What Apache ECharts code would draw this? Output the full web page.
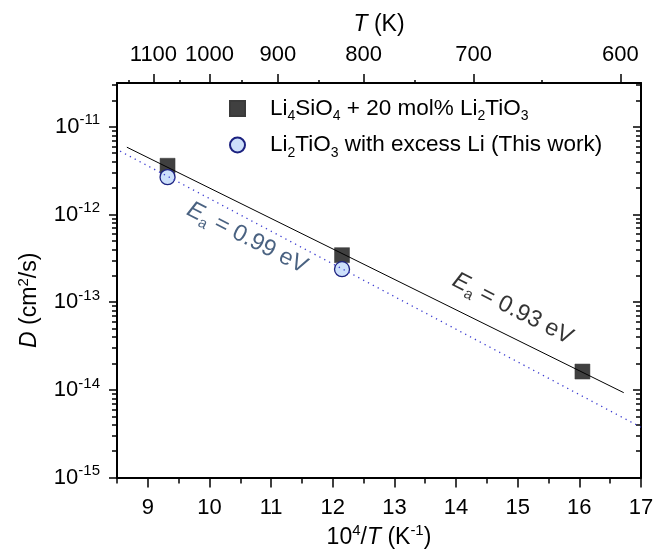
<!DOCTYPE html>
<html><head><meta charset="utf-8">
<script src="https://cdn.jsdelivr.net/npm/echarts@6/dist/echarts.min.js"></script>
<style>html,body{margin:0;padding:0;background:#fff}#c{width:668px;height:554px}</style>
</head><body><div id="c"></div>
<script>
// ---- data ----
const xTicks = [9, 10, 11, 12, 13, 14, 15, 16, 17];
const xMinorTicks = [8.5, 9.5, 10.5, 11.5, 12.5, 13.5, 14.5, 15.5, 16.5];
const tTicks = [1100, 1000, 900, 800, 700, 600];
const tMinorTicks = [1150, 1050, 950, 850, 750, 650];
const yDecades = [-15, -14, -13, -12, -11];
const yMinorMultipliers = [2, 3, 4, 5, 6, 7, 8, 9];
const nameA = 'Li4SiO4 + 20 mol% Li2TiO3';
const nameB = 'Li2TiO3 with excess Li (This work)';
const pointsA = [[9.32, 3.6e-12], [12.15, 3.44e-13], [16.05, 1.62e-14]];
const pointsB = [[9.32, 2.67e-12], [12.15, 2.38e-13]];
const fitA = [[8.66, 5.86e-12], [16.72, 9.3e-15]];
const fitB = [[8.55, 5.28e-12], [17.0, 3.75e-15]];
const annotA = [[14.92, 8.4e-14]];
const annotB = [[10.61, 5.4e-13]];
const annotAText = '0.93 eV';
const annotBText = '0.99 eV';

// ---- chart ----
const FF = 'Liberation Sans, Arial, sans-serif';
const yMin = 1e-15, yMax = Math.pow(10, -10.5);
const yMajor = yDecades.map(e => Math.pow(10, e));
const yMinor = [];
yDecades.forEach(e => yMinorMultipliers.forEach(m => { const v = m * Math.pow(10, e); if (v < yMax) yMinor.push(v); }));
const tMajorX = tTicks.map(t => 1e4 / t);
const tMinorX = tMinorTicks.map(t => 1e4 / t);

const supRich = {
  b: {fontSize: 22, lineHeight: 28, fontFamily: FF, color: '#000'},
  s: {fontSize: 15, lineHeight: 15, verticalAlign: 'top', fontFamily: FF, color: '#000'}
};
const nameRich = {
  n: {fontSize: 23, lineHeight: 28, fontFamily: FF, color: '#000'},
  i: {fontSize: 23, lineHeight: 28, fontFamily: FF, fontStyle: 'italic', color: '#000'},
  sup: {fontSize: 15, lineHeight: 15, verticalAlign: 'top', fontFamily: FF, color: '#000'}
};
const axLine = {show: true, onZero: false, lineStyle: {color: '#000', width: 2}};
const tickStyle = {color: '#000', width: 1.5};

const chart = echarts.init(document.getElementById('c'), null, {renderer: 'canvas'});
chart.setOption({
  animation: false,
  backgroundColor: '#fff',
  grid: {left: 117, right: 27, top: 83, bottom: 71, containLabel: false},
  legend: {
    orient: 'vertical', left: 229, top: 97, padding: 0, itemGap: 10,
    itemWidth: 15, itemHeight: 15, selectedMode: false,
    data: [{name: nameA, icon: 'rect'}, {name: nameB, icon: 'circle'}],
    formatter: n => n === nameA
      ? '{t|Li}{sub|4}{t|SiO}{sub|4}{t| + 20 mol% Li}{sub|2}{t|TiO}{sub|3}'
      : '{t|Li}{sub|2}{t|TiO}{sub|3}{t| with excess Li (This work)}',
    textStyle: {
      fontSize: 22, fontFamily: FF, color: '#000', padding: [0, 0, 0, 20],
      rich: {
        t: {fontSize: 22.5, lineHeight: 30, fontFamily: FF, color: '#000'},
        sub: {fontSize: 14, lineHeight: 6, verticalAlign: 'bottom', fontFamily: FF, color: '#000'}
      }
    }
  },
  xAxis: [
    {type: 'value', position: 'bottom', min: 8.5, max: 17, axisLine: axLine,
     axisTick: {customValues: xTicks, length: 10, lineStyle: tickStyle},
     axisLabel: {customValues: xTicks, margin: 19, fontSize: 22, fontFamily: FF, color: '#000'},
     splitLine: {show: false},
     name: '{n|10}{sup|4}{n|/}{i|T}{n| (K}{sup|-1}{n|)}', nameLocation: 'middle', nameGap: 45,
     nameTextStyle: {rich: nameRich, fontSize: 23, fontFamily: FF, color: '#000'}},
    {type: 'value', position: 'bottom', min: 8.5, max: 17, axisLine: {show: false, onZero: false},
     axisTick: {customValues: xMinorTicks, length: 6, lineStyle: tickStyle},
     axisLabel: {show: false}, splitLine: {show: false}},
    {type: 'value', position: 'top', min: 8.5, max: 17, axisLine: axLine,
     axisTick: {customValues: tMajorX, length: 9, lineStyle: tickStyle},
     axisLabel: {customValues: tMajorX, margin: 17, fontSize: 22, fontFamily: FF, color: '#000',
                 formatter: v => String(Math.round(1e4 / v / 10) * 10)},
     splitLine: {show: false},
     name: '{i|T}{n| (K)}', nameLocation: 'middle', nameGap: 44,
     nameTextStyle: {rich: nameRich, fontSize: 23, fontFamily: FF, color: '#000'}},
    {type: 'value', position: 'top', min: 8.5, max: 17, axisLine: {show: false, onZero: false},
     axisTick: {customValues: tMinorX, length: 3, lineStyle: tickStyle},
     axisLabel: {show: false}, splitLine: {show: false}}
  ],
  yAxis: [
    {type: 'log', logBase: 10, position: 'left', min: yMin, max: yMax, axisLine: axLine,
     axisTick: {customValues: yMajor, length: 8, lineStyle: tickStyle},
     axisLabel: {customValues: yMajor, margin: 17, fontFamily: FF, color: '#000',
                 formatter: v => { const e = Math.round(Math.log10(v)); return '{b|10}{s|' + (e < 0 ? '-' : '') + Math.abs(e) + '}'; },
                 rich: supRich},
     splitLine: {show: false},
     name: '{i|D}{n| (cm}{sup|2}{n|/s)}', nameLocation: 'middle', nameRotate: 90, nameGap: 73,
     nameTextStyle: {rich: nameRich, fontSize: 23, fontFamily: FF, color: '#000', padding: [0, 40, 0, 0]}},
    {type: 'log', logBase: 10, position: 'left', min: yMin, max: yMax, axisLine: {show: false, onZero: false},
     axisTick: {customValues: yMinor, length: 5, lineStyle: tickStyle},
     axisLabel: {show: false}, splitLine: {show: false}},
    {type: 'log', logBase: 10, position: 'right', min: yMin, max: yMax, axisLine: axLine,
     axisTick: {customValues: yMajor, length: 8, inside: true, lineStyle: tickStyle},
     axisLabel: {show: false}, splitLine: {show: false}},
    {type: 'log', logBase: 10, position: 'right', min: yMin, max: yMax, axisLine: {show: false, onZero: false},
     axisTick: {customValues: yMinor, length: 5, inside: true, lineStyle: tickStyle},
     axisLabel: {show: false}, splitLine: {show: false}}
  ],
  series: [
    {name: nameA, type: 'scatter', data: pointsA, symbol: 'rect', symbolSize: 15, z: 2,
     itemStyle: {color: '#404040', opacity: 1, borderColor: '#3a3a3a', borderWidth: 0.5}},
    {name: nameB, type: 'scatter', data: pointsB, symbol: 'circle', symbolSize: 15, z: 3,
     itemStyle: {color: '#cde0fb', opacity: 1, borderColor: '#1c2280', borderWidth: 1.3}},
    {type: 'line', data: fitA, symbol: 'none', z: 4, silent: true,
     lineStyle: {color: '#000', width: 1}},
    {type: 'line', data: fitB, symbol: 'none', z: 4, silent: true,
     lineStyle: {color: '#3c3cd0', width: 1.3, type: [1.3, 4.2]}},
    {type: 'scatter', data: annotA, symbolSize: 0.1, silent: true, z: 5,
     itemStyle: {color: 'rgba(0,0,0,0)'},
     label: {show: true, position: 'inside', rotate: -27,
             formatter: '{i|E}{sub|a}{t| = ' + annotAText + '}',
             rich: {
               t: {fontSize: 23.5, lineHeight: 30, fontFamily: FF, color: '#000'},
               i: {fontSize: 23.5, lineHeight: 30, fontFamily: FF, fontStyle: 'italic', color: '#000'},
               sub: {fontSize: 15, lineHeight: 8, verticalAlign: 'bottom', fontFamily: FF, color: '#000'}
             }}},
    {type: 'scatter', data: annotB, symbolSize: 0.1, silent: true, z: 5,
     itemStyle: {color: 'rgba(0,0,0,0)'},
     label: {show: true, position: 'inside', rotate: -27,
             formatter: '{i|E}{sub|a}{t| = ' + annotBText + '}',
             rich: {
               t: {fontSize: 23.5, lineHeight: 30, fontFamily: FF, color: '#1d3b62'},
               i: {fontSize: 23.5, lineHeight: 30, fontFamily: FF, fontStyle: 'italic', color: '#1d3b62'},
               sub: {fontSize: 15, lineHeight: 8, verticalAlign: 'bottom', fontFamily: FF, color: '#1d3b62'}
             }}}
  ]
});
</script>
</body></html>
